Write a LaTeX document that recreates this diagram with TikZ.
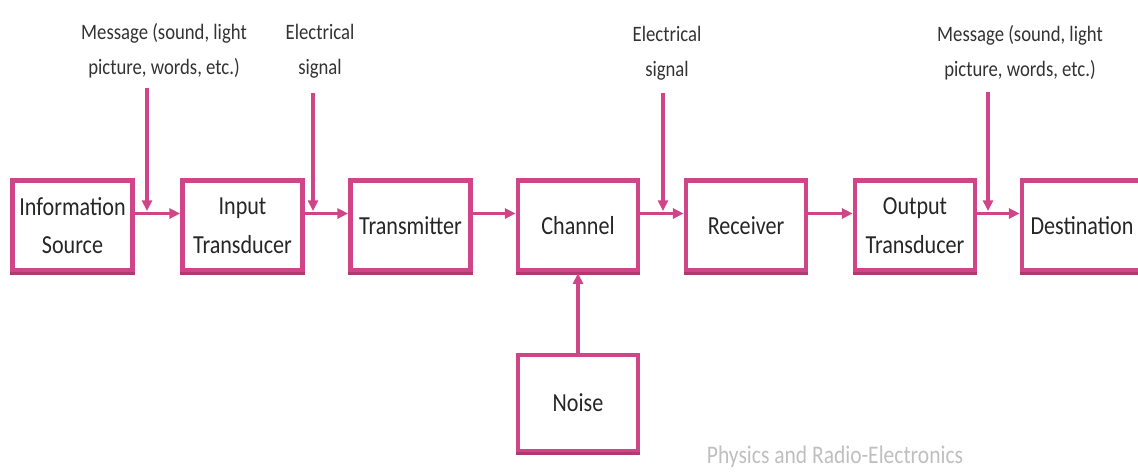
\documentclass[tikz,border=0pt]{standalone}
\usepackage{fontspec}
\setmainfont[FakeStretch=0.85]{Carlito}
\usetikzlibrary{arrows.meta}
\definecolor{rose}{RGB}{208,68,136}
\definecolor{roseshade}{RGB}{176,58,112}

\begin{document}
\begin{tikzpicture}[x=0.75pt,y=-0.75pt,
    flow/.style={draw=rose,line width=2.3pt,-{Triangle[length=8pt,width=7.5pt]}},
    shade/.style={draw=roseshade,line width=2.2pt},
    tag/.style={align=center,text=black!80,font=\fontsize{16.5}{26}\selectfont}]

  \clip (0,0) rectangle (1138,472);

  \begin{scope}[every node/.style={draw=rose,line width=3.6pt,fill=white,
      minimum width=90pt,minimum height=68pt,inner sep=1pt,align=center,
      text=black!85,font=\fontsize{19.5}{29}\selectfont}]
    \node (src) at (72.5,225.5)  {Information\\Source};
    \node (inp) at (242.5,225.5) {Input\\Transducer};
    \node (trm) at (410.5,225.5) {Transmitter};
    \node (chn) at (578,225.5)   {Channel};
    \node (rcv) at (746,225.5)   {Receiver};
    \node (out) at (915,225.5)   {Output\\Transducer};
    \node (dst) at (1082,225.5)  {Destination};
    \node[minimum height=72pt] (noi) at (578,403) {Noise};
  \end{scope}

  % darker lower edge of every box
  \foreach \n in {src,inp,trm,chn,rcv,out,dst,noi}
    \draw[shade] (\n.south west) -- (\n.south east);

  \node[tag] (msg1)  at (164,51)  {Message (sound, light\\picture, words, etc.)};
  \node[tag] (elec1) at (320,51)  {Electrical\\signal};
  \node[tag] (elec2) at (667,53)  {Electrical\\signal};
  \node[tag] (msg2)  at (1020,53) {Message (sound, light\\picture, words, etc.)};

  \node[text=black!25,font=\fontsize{19}{21}\selectfont] (mark) at (835,457)
    {Physics and Radio-Electronics};

  \coordinate (m1top) at (147,88);  \coordinate (m1) at (147,211);
  \coordinate (e1top) at (313,93);  \coordinate (e1) at (313,211);
  \coordinate (e2top) at (663,93);  \coordinate (e2) at (663,211);
  \coordinate (m2top) at (988,92);  \coordinate (m2) at (988,211);

  \begin{scope}[every edge/.style={flow}]
    \path ([yshift=9pt]src.east) edge ([yshift=9pt]inp.west);
    \path ([yshift=9pt]inp.east) edge ([yshift=9pt]trm.west);
    \path ([yshift=9pt]trm.east) edge ([yshift=9pt]chn.west);
    \path ([yshift=9pt]chn.east) edge ([yshift=9pt]rcv.west);
    \path ([yshift=9pt]rcv.east) edge ([yshift=9pt]out.west);
    \path ([yshift=9pt]out.east) edge ([yshift=9pt]dst.west);
    \path (m1top) edge (m1);
    \path (e1top) edge (e1);
    \path (e2top) edge (e2);
    \path (m2top) edge (m2);
    \path (noi.north) edge (chn.south);
  \end{scope}

\end{tikzpicture}
\end{document}
